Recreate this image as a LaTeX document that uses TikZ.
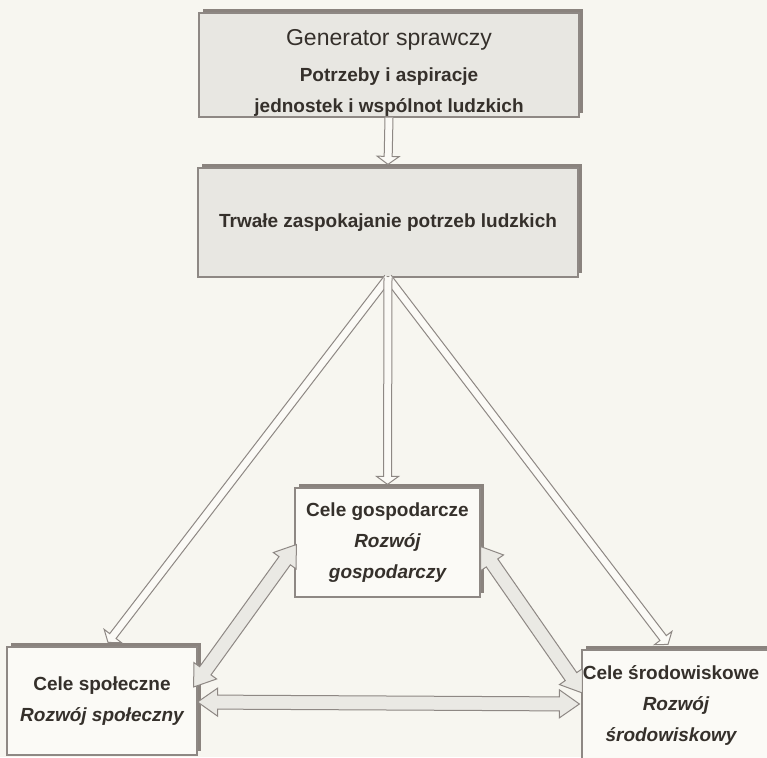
\documentclass[tikz,border=0pt]{standalone}
\usepackage{fontspec}
\setmainfont{Liberation Sans}
\usetikzlibrary{calc,shadows}
\definecolor{bg}{HTML}{F7F6F0}
\definecolor{ink}{HTML}{35302B}
\definecolor{edge}{HTML}{8E8884}
\definecolor{shade}{HTML}{8A837E}
\definecolor{greyfill}{HTML}{E8E7E2}
\definecolor{whitefill}{HTML}{FBFAF6}
\definecolor{arrowfill}{HTML}{EAE9E4}
\tikzset{
  box/.style={rectangle, draw=edge, line width=1.2pt, inner sep=0pt, align=center, text=ink,
    font=\fontsize{19}{31}\selectfont\bfseries,
    general shadow={fill=shade, shadow xshift=4pt, shadow yshift=4pt}},
  greybox/.style={box, fill=greyfill},
  whitebox/.style={box, fill=whitefill},
  thinarrow/.style={draw=edge, fill=whitefill, line width=1pt},
  fatarrow/.style={draw=edge, fill=arrowfill, line width=1pt},
}
\newcommand\sarrow[2]{%
  \coordinate (nn2) at ($(#2)!8pt!(#1)$);
  \fill[whitefill] ($(#1)!4pt!90:(#2)$) -- ($(nn2)!4pt!-90:(#1)$) -- ($(nn2)!11pt!-90:(#1)$) -- (#2) -- ($(nn2)!11pt!90:(#1)$) -- ($(nn2)!4pt!90:(#1)$) -- ($(#1)!4pt!-90:(#2)$) -- cycle;
  \draw[thinarrow, fill=none] ($(#1)!4pt!90:(#2)$) -- ($(nn2)!4pt!-90:(#1)$) -- ($(nn2)!11pt!-90:(#1)$) -- (#2) -- ($(nn2)!11pt!90:(#1)$) -- ($(nn2)!4pt!90:(#1)$) -- ($(#1)!4pt!-90:(#2)$);
}
\newcommand\darrow[2]{%
  \coordinate (nn1) at ($(#1)!20pt!(#2)$);
  \coordinate (nn2) at ($(#2)!20pt!(#1)$);
  \draw[fatarrow] (#1) -- ($(nn1)!14pt!90:(#2)$) -- ($(nn1)!7pt!90:(#2)$) -- ($(nn2)!7pt!-90:(#1)$) -- ($(nn2)!14pt!-90:(#1)$) -- (#2) -- ($(nn2)!14pt!90:(#1)$) -- ($(nn2)!7pt!90:(#1)$) -- ($(nn1)!7pt!-90:(#2)$) -- ($(nn1)!14pt!-90:(#2)$) -- cycle;
}
\begin{document}
\begin{tikzpicture}[x=1pt, y=-1pt]
\useasboundingbox (0,0) rectangle (767,757);
\begin{scope}
\clip (0,0) rectangle (767,757);
\fill[bg] (0,0) rectangle (767,757);

\node[greybox, minimum width=380pt, minimum height=104pt] (gen) at (389,65)
  {\mdseries\fontsize{23}{25}\selectfont\rule{0pt}{32pt}Generator sprawczy\\[5pt]
   \bfseries\fontsize{19}{31}\selectfont Potrzeby i aspiracje\\
   jednostek i wspólnot ludzkich};
\node[greybox, minimum width=380pt, minimum height=109pt] (trw) at (388,222.5)
  {Trwałe zaspokajanie potrzeb ludzkich};
\node[whitebox, minimum width=185pt, minimum height=109pt] (gosp) at (387.5,542.5)
  {\fontsize{19}{34}\selectfont Cele gospodarcze\\ \itshape Rozwój\\ \itshape gospodarczy};
\node[whitebox, minimum width=190pt, minimum height=108pt] (spol) at (102,701)
  {\fontsize{19}{28}\selectfont Cele społeczne\\ \itshape Rozwój społeczny};
\node[whitebox, minimum width=188pt, minimum height=110pt] (srod) at (676,705)
  {\fontsize{19}{33}\selectfont Cele środowiskowe\hspace*{10pt}\\ \itshape Rozwój\hspace*{10pt}\\ \itshape środowiskowy\hspace*{10pt}};

\coordinate (t1) at ($(trw.north)+(0,-3)$);
\coordinate (t2) at ($(gosp.north)+(0,-3)$);
\coordinate (t3) at ($(spol.north)+(6,-4)$);
\coordinate (t4) at ($(srod.north)+(-8,-5)$);
\sarrow{gen.south}{t1}
\sarrow{trw.south}{t3}
\sarrow{trw.south}{t4}
\sarrow{trw.south}{t2}

\coordinate (a1) at ($(spol.east)+(-4,-14)$);
\coordinate (a2) at ($(gosp.west)+(2,2)$);
\coordinate (b1) at ($(gosp.east)+(0,4)$);
\coordinate (b2) at ($(srod.west)+(1,-12)$);
\coordinate (c1) at ($(spol.east)+(0,1)$);
\coordinate (c2) at ($(srod.west)+(-2,-1)$);
\darrow{a1}{a2}
\darrow{b1}{b2}
\darrow{c1}{c2}
\end{scope}
\end{tikzpicture}
\end{document}
